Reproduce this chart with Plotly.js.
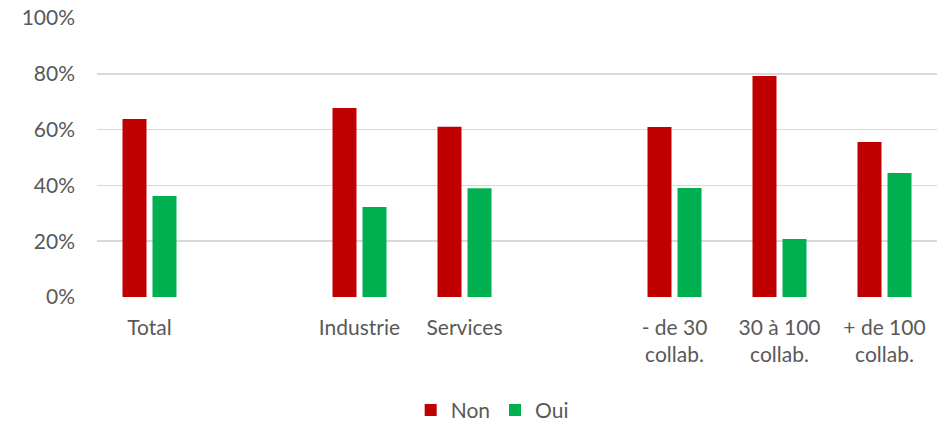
<!DOCTYPE html>
<html>
<head>
<meta charset="utf-8">
<script src="https://cdn.plot.ly/plotly-3.0.1.min.js"></script>
<style>html,body{margin:0;padding:0;background:#fff;}</style>
</head>
<body>
<div id="chart" style="width:952px;height:423px;"></div>
<script>
const categories = ["Total", " ", "Industrie", "Services", "  ", "- de 30<br>collab.", "30 à 100<br>collab.", "+ de 100<br>collab."];
const nonValues = [0.638, null, 0.677, 0.610, null, 0.609, 0.792, 0.556];
const ouiValues = [0.362, null, 0.323, 0.390, null, 0.391, 0.208, 0.444];
const seriesNames = ["Non", "Oui"];
const seriesColors = ["#C00000", "#00B050"];

const font = {family: "Lato, 'Open Sans', sans-serif", size: 21, color: "#595959"};

const traces = [
  {type: "bar", name: seriesNames[0], x: categories, y: nonValues, marker: {color: seriesColors[0]}, hoverinfo: "x+y"},
  {type: "bar", name: seriesNames[1], x: categories, y: ouiValues, marker: {color: seriesColors[1]}, hoverinfo: "x+y"}
];

const layout = {
  width: 952, height: 423,
  margin: {l: 97, r: 15, t: 18, b: 126},
  paper_bgcolor: "#fff", plot_bgcolor: "#fff",
  font: font,
  barmode: "group",
  bargap: 0.4286,
  bargroupgap: 0.2,
  showlegend: true,
  legend: {orientation: "h", xref: "container", yref: "container", x: 0.517, xanchor: "center", y: 0.03, yanchor: "middle", font: font, traceorder: "normal"},
  xaxis: {type: "category", categoryorder: "array", categoryarray: categories, showgrid: false, zeroline: false, showline: false, ticks: "", ticklabelstandoff: 16, tickfont: font, automargin: false},
  yaxis: {range: [0, 1], tickformat: ".0%", dtick: 0.2, showgrid: true, gridcolor: "#D9D9D9", gridwidth: 1.5, zeroline: false, showline: false, ticks: "", ticklabelstandoff: 21, tickfont: font, automargin: false}
};

Plotly.newPlot("chart", traces, layout, {displayModeBar: false, staticPlot: true});
</script>
</body>
</html>
